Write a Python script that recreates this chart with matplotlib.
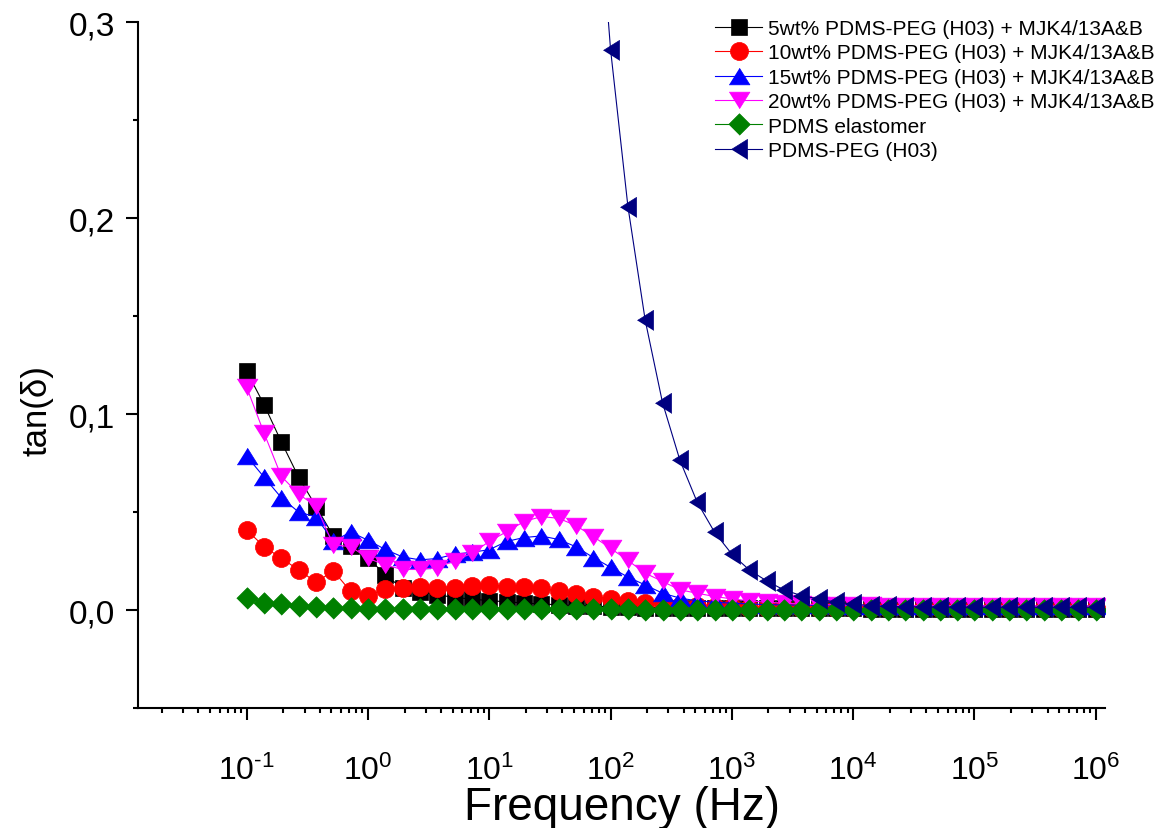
import math
import matplotlib
matplotlib.use('Agg')
import matplotlib.pyplot as plt
from matplotlib.ticker import FixedLocator, LogLocator, MultipleLocator, FuncFormatter, NullFormatter

plt.rcParams['font.family'] = ['Liberation Sans', 'DejaVu Sans']
plt.rcParams['mathtext.fontset'] = 'custom'
plt.rcParams['mathtext.rm'] = 'Liberation Sans'
plt.rcParams['mathtext.it'] = 'Liberation Sans:italic'
plt.rcParams['axes.unicode_minus'] = False

# frequency grid (Hz), 7 points per decade
freq = [0.1, 0.139, 0.193, 0.268, 0.373, 0.518, 0.72,
        1.0, 1.39, 1.93, 2.68, 3.73, 5.18, 7.2,
        10, 13.9, 19.3, 26.8, 37.3, 51.8, 72,
        100, 139, 193, 268, 373, 518, 720,
        1e3, 1.39e3, 1.93e3, 2.68e3, 3.73e3, 5.18e3, 7.2e3,
        1e4, 1.39e4, 1.93e4, 2.68e4, 3.73e4, 5.18e4, 7.2e4,
        1e5, 1.39e5, 1.93e5, 2.68e5, 3.73e5, 5.18e5, 7.2e5,
        1e6]
decades = [-1, 0, 1, 2, 3, 4, 5, 6]

tan_5wt = [0.122, 0.105, 0.086, 0.068, 0.053, 0.038, 0.033, 0.027, 0.018, 0.0113,
           0.0096, 0.008, 0.0066, 0.0058, 0.005, 0.0044, 0.0038, 0.0033, 0.0029, 0.0025,
           0.0022, 0.0019, 0.0017, 0.0015, 0.0014, 0.0013, 0.0012, 0.0012, 0.0011, 0.0011,
           0.0011, 0.001, 0.001, 0.001, 0.001, 0.001, 0.0009, 0.0009, 0.0009, 0.0009,
           0.0009, 0.0009, 0.0008, 0.0008, 0.0008, 0.0008, 0.0008, 0.0008, 0.0008, 0.0008]
tan_10wt = [0.041, 0.0326, 0.0266, 0.0207, 0.0144, 0.0202, 0.0097, 0.0076, 0.0108, 0.0114,
            0.0118, 0.0114, 0.0114, 0.0125, 0.013, 0.0122, 0.0122, 0.0114, 0.0099, 0.0083,
            0.0071, 0.0059, 0.0046, 0.0038, 0.0031, 0.0025, 0.0021, 0.0018, 0.0016, 0.0015,
            0.0014, 0.0014, 0.0013, 0.0013, 0.0013, 0.0013, 0.0012, 0.0012, 0.0012, 0.0012,
            0.0012, 0.0012, 0.0012, 0.0012, 0.0012, 0.0012, 0.0012, 0.0012, 0.0012, 0.0012]
tan_15wt = [0.0787, 0.068, 0.0575, 0.0502, 0.0477, 0.0353, 0.04, 0.0358, 0.0311, 0.0273,
            0.0258, 0.0265, 0.0287, 0.0297, 0.031, 0.0352, 0.0372, 0.038, 0.0362, 0.0325,
            0.027, 0.022, 0.017, 0.013, 0.0088, 0.0063, 0.0049, 0.0042, 0.0037, 0.0033,
            0.003, 0.0028, 0.0027, 0.0026, 0.0026, 0.0025, 0.0025, 0.0024, 0.0024, 0.0024,
            0.0023, 0.0023, 0.0023, 0.0023, 0.0022, 0.0022, 0.0022, 0.0022, 0.0022, 0.0022]
tan_20wt = [0.1138, 0.0905, 0.0684, 0.0594, 0.0531, 0.0334, 0.0326, 0.0266, 0.0232, 0.0209,
            0.0209, 0.0219, 0.0253, 0.0292, 0.0352, 0.0402, 0.0453, 0.0479, 0.047, 0.0433,
            0.0377, 0.0317, 0.0255, 0.019, 0.0148, 0.0105, 0.0088, 0.0071, 0.0059, 0.0049,
            0.0042, 0.0037, 0.0033, 0.003, 0.0028, 0.0027, 0.0026, 0.0025, 0.0025, 0.0024,
            0.0024, 0.0024, 0.0023, 0.0023, 0.0023, 0.0023, 0.0022, 0.0022, 0.0022, 0.0022]
tan_pdms = [0.0063, 0.004, 0.0032, 0.0022, 0.0016, 0.0012, 0.001, 0.0009, 0.0008, 0.0008,
            0.0007, 0.0007, 0.0007, 0.0006, 0.0006, 0.0006, 0.0006, 0.0005, 0.0005, 0.0005,
            0.0005, 0.0005, 0.0005, 0.0004, 0.0004, 0.0004, 0.0004, 0.0004, 0.0004, 0.0004,
            0.0004, 0.0004, 0.0003, 0.0003, 0.0003, 0.0003, 0.0003, 0.0003, 0.0003, 0.0003,
            0.0003, 0.0003, 0.0003, 0.0003, 0.0003, 0.0003, 0.0003, 0.0003, 0.0003, 0.0003]
# PDMS-PEG (H03) only shown from 72 Hz on (higher values are off scale)
tan_peg = [0.40, 0.286, 0.206, 0.148, 0.106, 0.0766, 0.0552, 0.0399, 0.0287, 0.0207,
           0.0151, 0.0105, 0.0076, 0.0059, 0.0042, 0.0032, 0.0025, 0.0021, 0.0019, 0.0018,
           0.0017, 0.0017, 0.0016, 0.0016, 0.0016, 0.0016, 0.0016, 0.0016, 0.0016, 0.0016]

labels = ['5wt% PDMS-PEG (H03) + MJK4/13A&B',
          '10wt% PDMS-PEG (H03) + MJK4/13A&B',
          '15wt% PDMS-PEG (H03) + MJK4/13A&B',
          '20wt% PDMS-PEG (H03) + MJK4/13A&B',
          'PDMS elastomer',
          'PDMS-PEG (H03)']

tri_up = [(-1.25, -1), (1.25, -1), (0, 1)]
tri_down = [(-1.25, 1), (1.25, 1), (0, -1)]
diamond = [(-1, 0), (0, 1), (1, 0), (0, -1)]
tri_left = [(-0.8, 0), (0.8, 1), (0.8, -1)]


def decade_label(v, pos):
    d = round(math.log10(v))
    if d < 0:
        return r'$10^{\text{-}%d}$' % -d
    return r'$10^{%d}$' % d


fig = plt.figure(figsize=(11.55, 8.29), dpi=100)
ax = fig.add_axes([0.1195, 0.1442, 0.9567 - 0.1195, 0.9718 - 0.1442])

series = [
    (freq, tan_5wt, 'black', 's', 11.3),
    (freq, tan_10wt, 'red', 'o', 13),
    (freq, tan_15wt, 'blue', tri_up, 15),
    (freq, tan_20wt, 'magenta', tri_down, 15),
    (freq, tan_pdms, 'green', diamond, 15.5),
    (freq[20:], tan_peg, 'navy', tri_left, 14.5),
]
for (x, y, c, m, ms), lab in zip(series, labels):
    ax.plot(x, y, color=c, lw=0.8, marker=m, ms=ms, mfc=c, mec=c, mew=0.5, label=lab)

ax.set_xscale('log')
ax.set_xlim(10**-1.896, 10**6.076)
ax.set_ylim(-0.05, 0.3)

ax.xaxis.set_major_locator(FixedLocator([10.0**d for d in decades]))
ax.xaxis.set_major_formatter(FuncFormatter(decade_label))
ax.xaxis.set_minor_locator(LogLocator(base=10, subs=range(2, 10), numticks=20))
ax.xaxis.set_minor_formatter(NullFormatter())
ax.yaxis.set_major_locator(MultipleLocator(0.1))
ax.yaxis.set_minor_locator(MultipleLocator(0.05))
ax.yaxis.set_major_formatter(FuncFormatter(lambda v, p: f'{v:.1f}'.replace('.', ',').replace('-0,0', '0,0')))

for s in ['top', 'right']:
    ax.spines[s].set_visible(False)
for s in ['left', 'bottom']:
    ax.spines[s].set_linewidth(1.5)

ax.tick_params(which='major', direction='out', length=8.5, width=1.5)
ax.tick_params(which='minor', direction='out', length=3.5, width=1.5)
ax.tick_params(axis='x', which='major', labelsize=23, pad=25)
ax.tick_params(axis='y', which='major', labelsize=24, pad=8)

ax.set_xlabel('Frequency (Hz)', fontsize=33, labelpad=-1)
ax.set_ylabel('tan(δ)', fontsize=25)
ax.yaxis.set_label_coords(-0.087, 0.435)

ax.legend(loc='upper left', bbox_to_anchor=(715 / 1155, 1 - 20 / 829), bbox_transform=fig.transFigure,
          frameon=False, fontsize=15, handlelength=2.26, handletextpad=0.3, labelspacing=0.26,
          borderpad=0, borderaxespad=0)

plt.savefig('out.png', dpi=100)
